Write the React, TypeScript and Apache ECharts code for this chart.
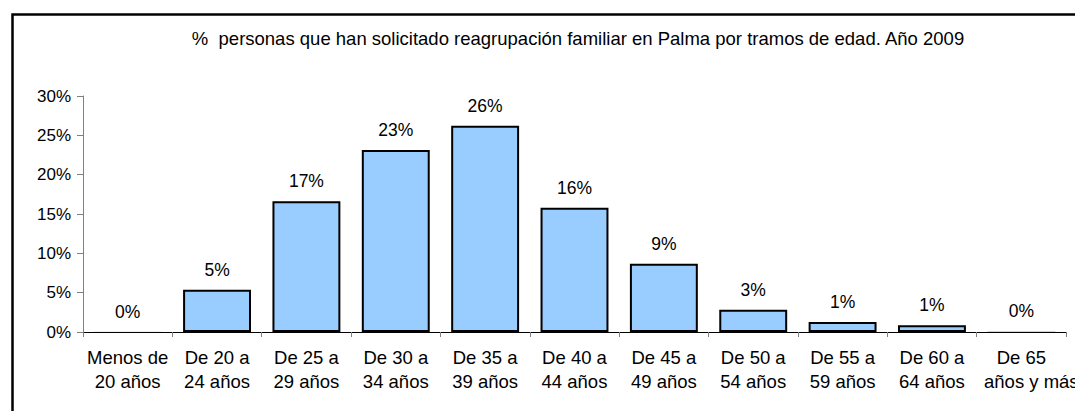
import React, { useEffect, useRef } from "react";
import * as echarts from "echarts";

const categories = [
  "Menos de\n20 años",
  "De 20 a\n24 años",
  "De 25 a\n29 años",
  "De 30 a\n34 años",
  "De 35 a\n39 años",
  "De 40 a\n44 años",
  "De 45 a\n49 años",
  "De 50 a\n54 años",
  "De 55 a\n59 años",
  "De 60 a\n64 años",
  "De 65\naños y más",
];
const values = [0.02, 5.38, 16.62, 23.15, 26.23, 15.79, 8.68, 2.84, 1.27, 0.85, 0.1];
const titleText =
  "%  personas que han solicitado reagrupación familiar en Palma por tramos de edad. Año 2009";

const FONT = "'Liberation Sans', Arial, sans-serif";

export default function App() {
  const ref = useRef<HTMLDivElement>(null);
  useEffect(() => {
    if (!ref.current) return;
    const chart = echarts.init(ref.current, null, { renderer: "svg" });
    const lastIdx = categories.length - 1;
    chart.setOption({
      animation: false,
      backgroundColor: "#ffffff",
      textStyle: { fontFamily: FONT, color: "#000" },
      graphic: [
        {
          type: "rect",
          left: 10,
          top: 12,
          shape: { width: 1200, height: 600 },
          style: { fill: "none", stroke: "#000", lineWidth: 2.5 },
          z: 10,
        },
      ],
      title: {
        text: titleText,
        left: 573,
        top: 24,
        textAlign: "center",
        textStyle: { fontFamily: FONT, fontSize: 18.5, fontWeight: "normal", color: "#000" },
      },
      grid: {
        left: 83,
        right: 9,
        top: 96,
        bottom: 79,
        containLabel: false,
        outerBoundsMode: "none",
      },
      xAxis: {
        type: "category",
        data: categories,
        boundaryGap: true,
        axisLine: { show: true, lineStyle: { color: "#000", width: 1 } },
        axisTick: { show: true, length: 5, alignWithLabel: false, lineStyle: { color: "#808080" } },
        axisLabel: {
          interval: 0,
          margin: 13,
          fontFamily: FONT,
          fontSize: 18.5,
          lineHeight: 24,
          color: "#000",
          hideOverlap: false,
          formatter: (value: string, index: number) => {
            if (index !== lastIdx) return value;
            const parts = value.split("\n");
            return "{s|" + parts[0] + "}\n{p|" + parts[1] + "}";
          },
          rich: {
            s: { fontFamily: FONT, fontSize: 18.5, lineHeight: 24, color: "#000" },
            p: {
              fontFamily: FONT,
              fontSize: 18.5,
              lineHeight: 24,
              color: "#000",
              padding: [0, 0, 0, 20],
            },
          },
        },
      },
      yAxis: {
        type: "value",
        min: 0,
        max: 30,
        interval: 5,
        splitLine: { show: false },
        axisLine: { show: true, lineStyle: { color: "#808080", width: 1 } },
        axisTick: { show: true, length: 6, lineStyle: { color: "#808080" } },
        axisLabel: {
          formatter: "{value}%",
          margin: 12,
          fontFamily: FONT,
          fontSize: 17,
          color: "#000",
        },
      },
      series: [
        {
          type: "bar",
          data: values.map((v) => (v < 0.5 ? { value: v, itemStyle: { borderWidth: 0 } } : v)),
          barWidth: "76%",
          itemStyle: { color: "#99CCFF", borderColor: "#000", borderWidth: 2 },
          label: {
            show: true,
            position: "top",
            distance: 11,
            fontFamily: FONT,
            fontSize: 17.5,
            color: "#000",
            formatter: (p: any) => Math.round(p.value) + "%",
          },
        },
      ],
    });
    return () => chart.dispose();
  }, []);
  return (
    <div
      ref={ref}
      style={{ position: "absolute", left: 0, top: 0, width: 1075, height: 411 }}
    />
  );
}
